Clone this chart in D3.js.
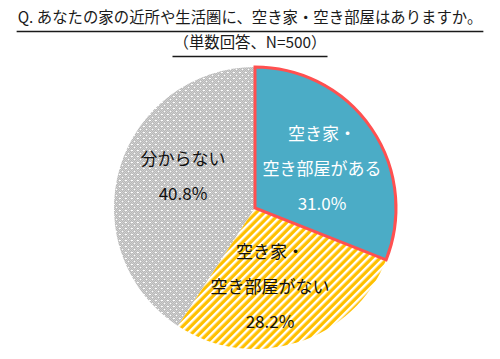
<!DOCTYPE html>
<html><head><meta charset="utf-8">
<script src="https://cdn.jsdelivr.net/npm/d3@7"></script>
<style>body{margin:0;background:#fff}svg{display:block}</style>
</head><body>
<svg id="c" width="500" height="359"></svg>
<script>
const titleLines = ["Q. あなたの家の近所や生活圏に、空き家・空き部屋はありますか。", "（単数回答、N=500）"];
const categories = ["空き家・\n空き部屋がある", "空き家・\n空き部屋がない", "分からない"];
const values = [31.0, 28.2, 40.8];
const valueLabels = ["31.0%", "28.2%", "40.8%"];

const W = 500, H = 359;
const svg = d3.select("#c");
const font = "'Noto Sans CJK JP','Noto Sans',sans-serif";
const defs = svg.append("defs");

// yellow stripe pattern
const ps = defs.append("pattern").attr("id","stripe").attr("patternUnits","userSpaceOnUse")
  .attr("width",5.7).attr("height",6).attr("patternTransform","rotate(45)");
ps.append("rect").attr("width",5.7).attr("height",6).attr("fill","#FFC000");
ps.append("rect").attr("width",2.4).attr("height",6).attr("fill","#ffffff");

// gray dotted pattern
const pg = defs.append("pattern").attr("id","dots").attr("patternUnits","userSpaceOnUse")
  .attr("width",6).attr("height",6);
pg.append("rect").attr("width",6).attr("height",6).attr("fill","#d0d0d0");
for (let y=0;y<6;y++) for (let x=0;x<6;x++) {
  if ((x+y)%2===0) pg.append("rect").attr("x",x).attr("y",y).attr("width",1).attr("height",1).attr("fill","#b8b8b8");
}
[[2,2],[5,5]].forEach(([x,y])=>pg.append("rect").attr("x",x).attr("y",y).attr("width",2).attr("height",1).attr("fill","#ffffff"));

// title
const ty = [23, 48];
titleLines.forEach((t,i)=>{
  const tx = svg.append("text").attr("x",W/2).attr("y",ty[i]).attr("text-anchor","middle")
    .attr("font-family",font).attr("font-size",15.4).attr("fill","#1a1a1a").text(t);
  const bb = tx.node().getBBox();
  svg.append("line").attr("x1",bb.x-1).attr("x2",bb.x+bb.width+1).attr("y1",ty[i]+8.5).attr("y2",ty[i]+8.5)
    .attr("stroke","#1a1a1a").attr("stroke-width",1.3);
});

const cx = 255, cy = 208, r = 141;
const pie = d3.pie().sort(null).value(d=>d)(values);
const arc = d3.arc().innerRadius(0).outerRadius(r);
const g = svg.append("g").attr("transform",`translate(${cx},${cy})`);
const fills = ["#4BACC6","url(#stripe)","url(#dots)"];
[2,1,0].forEach(i=>{
  g.append("path").attr("d",arc(pie[i])).attr("fill",fills[i])
    .attr("stroke", i===0 ? "#FF5050" : "none").attr("stroke-width", i===0 ? 3 : 0)
    .attr("stroke-linejoin","miter");
});

// labels
const labelPos = [[322,132],[270,250],[183,157]];
const textColors = ["#ffffff","#111111","#111111"];
pie.forEach((p,i)=>{
  const lines = categories[i].split("\n").concat([valueLabels[i]]);
  lines.forEach((l,j)=>{
    g.append("text").attr("x",labelPos[i][0]-cx).attr("y",labelPos[i][1]-cy+j*35)
      .attr("text-anchor","middle").attr("dominant-baseline","central")
      .attr("font-family",font).attr("font-size",17).attr("fill",textColors[i]).text(l);
  });
});
</script>
</body></html>
